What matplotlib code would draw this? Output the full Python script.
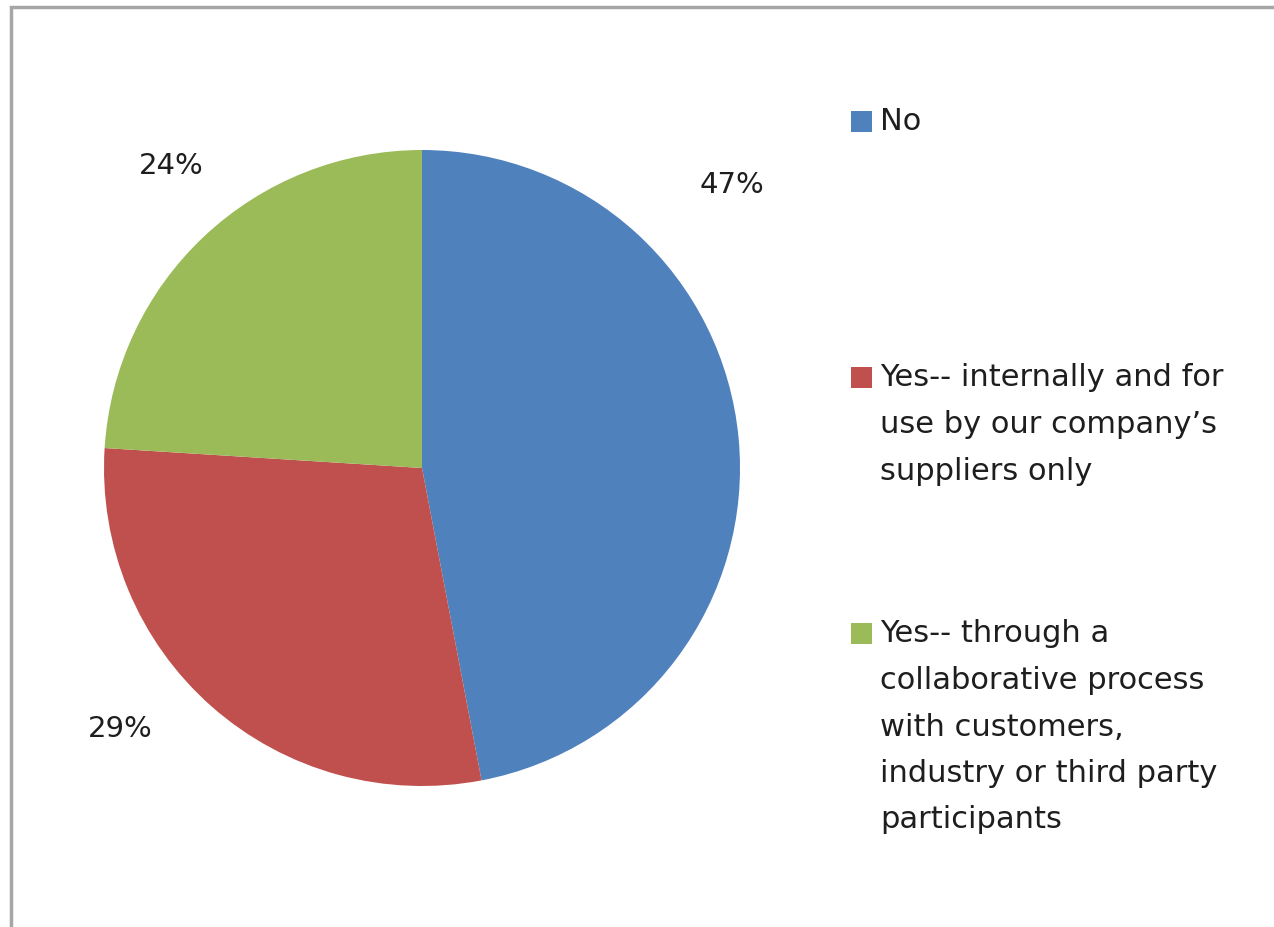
import matplotlib
matplotlib.use("Agg")
import matplotlib.pyplot as plt
from matplotlib.patches import Rectangle

# data
categories = [
    "No",
    "Yes-- internally and for\nuse by our company\u2019s\nsuppliers only",
    "Yes-- through a\ncollaborative process\nwith customers,\nindustry or third party\nparticipants",
]
shares = [47, 29, 24]
colors = ["#4F81BD", "#C0504D", "#9BBB59"]

W, H = 1274, 927
fig = plt.figure(figsize=(W / 100, H / 100), dpi=100)
plt.rcParams['font.family'] = ['DejaVu Sans']

# gray frame around the chart area (runs off right/bottom edges)
fig.patches.append(Rectangle((11 / W, -0.05), 1.2, 1 - 7 / H + 0.05,
                             transform=fig.transFigure, fill=False,
                             edgecolor="#a6a6a6", linewidth=2.5))

# pie axes: centre (422, 468) px, radius 318 px
cx, cy, r = 422, 468, 318
ax = fig.add_axes([(cx - r) / W, (H - cy - r) / H, 2 * r / W, 2 * r / H])
wedges, _ = ax.pie(shares, colors=colors, startangle=90, counterclock=False,
                   radius=1.0, wedgeprops=dict(linewidth=0))
ax.set_xlim(-1, 1)
ax.set_ylim(-1, 1)
ax.set_aspect("equal")
ax.axis("off")

# percentage labels (outside end, as placed in the original)
label_pos = [(0.975, 0.89), (-0.95, -0.82), (-0.79, 0.95)]
for v, (lx, ly) in zip(shares, label_pos):
    ax.text(lx, ly, f"{v}%", ha="center", va="center", fontsize=21,
            color="#1e1e1e", clip_on=False)

# legend drawn by hand: square key + wrapped lines
entry_top = [122, 378, 634]
line_step = 46.5
for lab, col, y0 in zip(categories, colors, entry_top):
    fig.patches.append(Rectangle((851 / W, (H - y0 - 10) / H), 21 / W, 21 / H,
                                 transform=fig.transFigure, facecolor=col,
                                 edgecolor="none"))
    for i, line in enumerate(lab.split("\n")):
        fig.text(880 / W, (H - y0 - i * line_step) / H, line, ha="left",
                 va="center", fontsize=22, color="#1e1e1e")

fig.savefig("out.png", dpi=100, facecolor="white")
